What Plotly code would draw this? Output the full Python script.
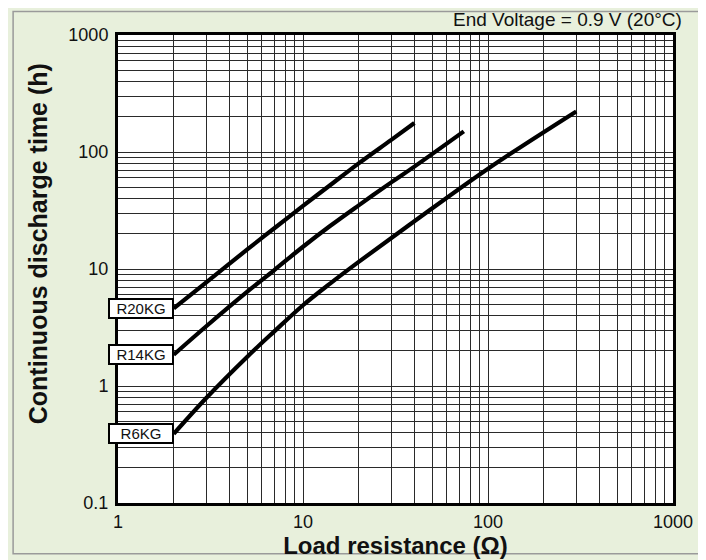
import math
import plotly.graph_objects as go

# Data
r20_res = [2, 3, 5, 7, 10, 14, 20, 30, 40]
r20_time = [4.6, 7.7, 14.7, 22.3, 34.6, 52, 80, 127, 177]

r14_res = [2, 3, 5, 7, 10, 14, 20, 30, 40, 74]
r14_time = [1.85, 3.24, 6.4, 9.8, 15.5, 23.3, 35, 55, 75, 150]

r6_res = [2, 3, 5, 7, 10, 14, 20, 40, 100, 300]
r6_time = [0.39, 0.79, 1.78, 2.93, 4.9, 7.5, 11.5, 25.6, 72, 222]

series_names = ["R20KG", "R14KG", "R6KG"]
x_tickvals = [1, 10, 100, 1000]
x_ticktext = ["1", "10", "100", "1000"]
y_tickvals = [0.1, 1, 10, 100, 1000]
y_ticktext = ["0.1", "1", "10", "100", "1000"]

FONT = "Liberation Sans Narrow, Liberation Sans, Arial, sans-serif"
BOLD = "Liberation Sans, Arial, sans-serif"
GRID = "#2a2a2a"

fig = go.Figure()
for name, xs, ys in zip(series_names, [r20_res, r14_res, r6_res], [r20_time, r14_time, r6_time]):
    fig.add_trace(go.Scatter(
        x=xs, y=ys, mode="lines", name=name,
        line=dict(color="black", width=4.2, shape="spline", smoothing=1.0),
        showlegend=False, hoverinfo="skip",
    ))
    fig.add_annotation(
        x=math.log10(xs[0]), y=math.log10(ys[0]), xref="x", yref="y",
        text=name, showarrow=False, xanchor="right", yanchor="middle",
        width=62, height=17, align="center",
        bgcolor="white", bordercolor="black", borderwidth=2, borderpad=0,
        font=dict(family=FONT, size=15, color="#111"),
    )

fig.add_annotation(
    x=1, y=1, xref="paper", yref="paper", xanchor="right", yanchor="bottom",
    yshift=3, xshift=11,
    text="End Voltage = 0.9 V (20°C)", showarrow=False,
    font=dict(family=FONT, size=19, color="#111"),
)

# y-axis title placed as a rotated annotation (it sits above the axis centre)
fig.add_annotation(
    x=-0.144, y=0.553, xref="paper", yref="paper",
    xanchor="center", yanchor="middle", textangle=-90,
    text="<b>Continuous discharge time (h)</b>", showarrow=False,
    font=dict(family=BOLD, size=25, color="#111"),
)

axis_common = dict(
    type="log",
    showgrid=True, gridcolor=GRID, gridwidth=1.3,
    showline=True, linecolor="black", linewidth=3, mirror=True,
    ticks="", zeroline=False,
    tickfont=dict(family=FONT, size=18, color="#111"),
    minor=dict(showgrid=True, gridcolor=GRID, gridwidth=1.1, dtick="D1", ticks=""),
)

fig.update_xaxes(
    **axis_common,
    range=[0, 3], tickvals=x_tickvals, ticktext=x_ticktext,
    title=dict(text="<b>Load resistance (Ω)</b>", standoff=0,
               font=dict(family=BOLD, size=24, color="#111")),
)
fig.update_yaxes(
    **axis_common,
    range=[-1, 3], tickvals=y_tickvals, ticktext=y_ticktext,
    ticklabelstandoff=3,
)

fig.add_shape(type="rect", xref="paper", yref="paper",
              x0=-0.189, x1=1.049, y0=-0.1085, y1=1.05,
              line=dict(color="#9a9a9a", width=1.5), layer="below")

fig.update_layout(
    width=698, height=552,
    margin=dict(l=110, r=33, t=27, b=55),
    paper_bgcolor="#e8f0dc",
    plot_bgcolor="white",
)

fig.write_html("out.html")
